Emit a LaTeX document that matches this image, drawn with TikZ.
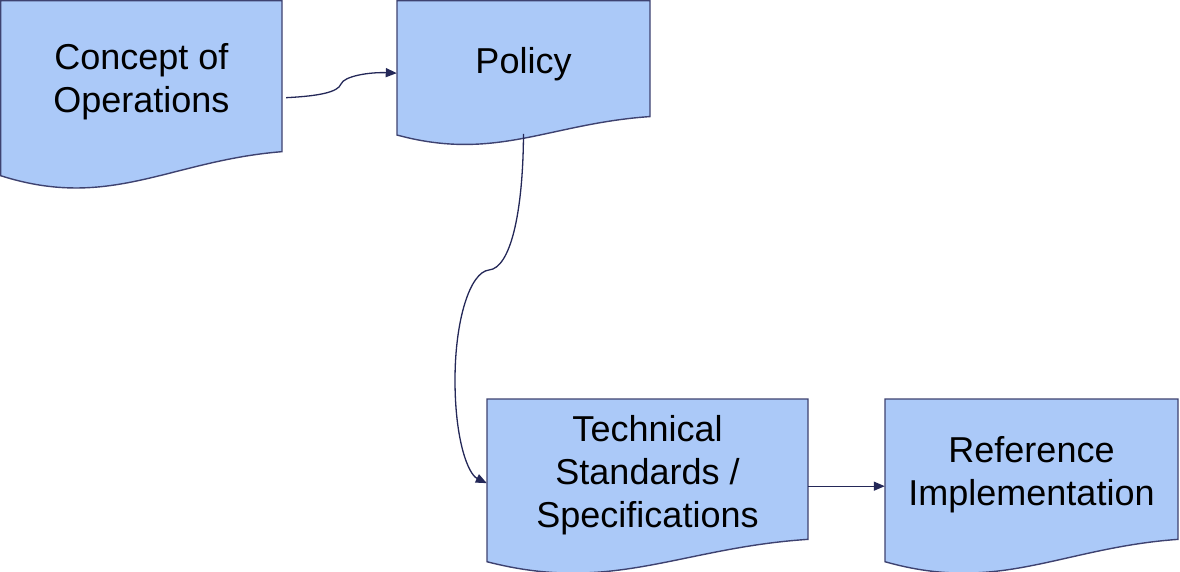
\documentclass[tikz,border=0pt]{standalone}
\usepackage{fontspec}
\setmainfont{Liberation Sans}
\usetikzlibrary{arrows.meta}
\definecolor{docfill}{RGB}{171,201,248}
\definecolor{docline}{RGB}{62,66,112}
\definecolor{conline}{RGB}{36,40,88}
\tikzset{
  docshape/.style={fill=docfill, draw=docline, line width=1.4pt, line join=miter},
  doctext/.style={inner sep=0pt, align=center, font=\fontsize{36}{43}\selectfont},
  conn/.style={draw=conline, line width=1.3pt, -{Triangle[length=11pt,width=9pt]}}
}
\newcommand{\docbox}[6]{%
  \pgfmathsetmacro{\dw}{#4-#2}%
  \pgfmathsetmacro{\yR}{#3+0.816*#5}%
  \pgfmathsetmacro{\yL}{#3+0.946*#5}%
  \pgfmathsetmacro{\pAx}{#2+0.39*\dw}%
  \pgfmathsetmacro{\pAy}{#3+1.135*#5}%
  \pgfmathsetmacro{\pBx}{#2+0.6*\dw}%
  \pgfmathsetmacro{\pBy}{#3+0.865*#5}%
  \pgfmathsetmacro{\cx}{(#2+#4)/2}%
  \pgfmathsetmacro{\cy}{(#3+\yR)/2+6}%
  \pgfmathsetmacro{\bh}{\yR-#3}%
  \draw[docshape] (#2,#3) -- (#4,#3) -- (#4,\yR) .. controls (\pBx,\pBy) and (\pAx,\pAy) .. (#2,\yL) -- cycle;
  \node[doctext, minimum width=\dw pt, minimum height=\bh pt] (#1) at (\cx,\cy) {#6};
}
\begin{document}
\begin{tikzpicture}[x=1pt,y=-1pt]
\useasboundingbox (0,0) rectangle (1180,572);
\docbox{conops}{0.7}{0.7}{282}{185}{Concept of\\Operations}
\docbox{policy}{397}{0.7}{650}{142}{Policy}
\docbox{tech}{487}{399}{808}{172}{Technical\\Standards /\\Specifications}
\docbox{refimp}{885}{399}{1178}{172}{Reference\\Implementation}

\draw[conn] ([shift={(4,15.5)}]conops.east) .. controls (320,96) and (338,92) .. (341,84)
  .. controls (344,76) and (370,72) .. ([shift={(0,8.5)}]policy.west);
\draw[conn] ([shift={(0,11)}]policy.south) .. controls (523,215) and (510,268) .. (489,270)
  .. controls (470,272) and (455,320) .. (455,380)
  .. controls (455,440) and (468,474) .. ([shift={(0,8)}]tech.west);
\draw[conn] ([shift={(0,11)}]tech.east) -- ([shift={(0,11)}]refimp.west);
\end{tikzpicture}
\end{document}
